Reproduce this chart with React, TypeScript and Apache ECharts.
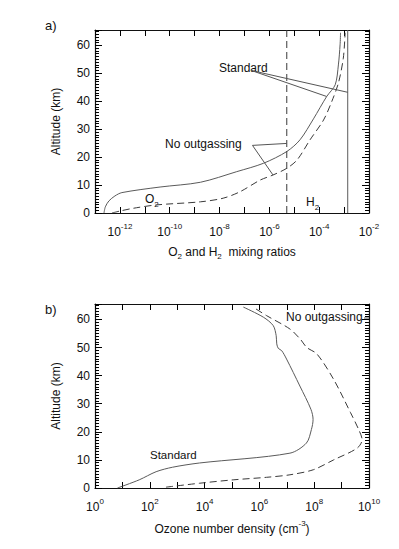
import React, { useEffect, useRef } from "react";
import * as echarts from "echarts";

// ---------- Panel a: O2 and H2 mixing ratios ----------
const altO2Std = [0, 2.2, 4.3, 6.1, 7.3, 9.3, 11.0, 14.8, 17.8, 22.0, 26.2, 33.7, 41.7, 45.9, 53.0, 60.2, 64.5];
const o2Std = [2.3e-13, 2.6e-13, 3.6e-13, 6.3e-13, 1.2e-12, 4.1e-11, 1.7e-9, 4.9e-8, 5.8e-7, 5.0e-6, 1.7e-5, 5.9e-5, 2.0e-4, 4.4e-4, 5.9e-4, 6.9e-4, 7.2e-4];
const altO2NoOut = [0, 0.7, 1.7, 2.9, 4.0, 5.3, 7.6, 11.8, 13.6, 16.0, 19.0, 26.2, 33.3, 39.9, 46.5, 55.4, 64.5];
const o2NoOut = [4.8e-13, 1.0e-12, 3.5e-12, 3.0e-11, 1.7e-9, 1.4e-8, 6.6e-8, 4.3e-7, 1.4e-6, 5.0e-6, 1.3e-5, 4.3e-5, 1.5e-4, 3.2e-4, 5.9e-4, 9.3e-4, 1.1e-3];
const h2Std = 1.4e-3;
const h2NoOut = 5.0e-6;

// ---------- Panel b: ozone number density ----------
const altO3Std = [0, 2.9, 5.8, 7.4, 8.9, 12.4, 16.0, 20.8, 24.4, 28.0, 36.3, 45.9, 48.9, 49.7, 51.3, 54.2, 57.8, 60.8, 64.4];
const o3Std = [6.6, 41, 170, 680, 6.5e3, 1.3e7, 5.2e7, 7.9e7, 9.1e7, 7.6e7, 3.0e7, 9.8e6, 6.5e6, 4.9e6, 4.3e6, 4.1e6, 3.2e6, 1.4e6, 2.6e5];
const altO3NoOut = [0.3, 1.7, 2.9, 3.8, 4.7, 6.5, 10.0, 14.2, 17.2, 20.8, 26.9, 38.7, 47.7, 50.0, 53.0, 56.6, 61.4, 64.4];
const o3NoOut = [390, 6.6e3, 1.1e5, 1.8e6, 1.3e7, 9.3e7, 5.1e8, 3.7e9, 5.6e9, 4.2e9, 2.1e9, 5.1e8, 1.26e8, 5.4e7, 3.1e7, 1.3e7, 1.8e6, 5.9e5];

const yTicks = [0, 10, 20, 30, 40, 50, 60];
const altMax = 65.5;

const FONT = "'Liberation Sans', Arial, Helvetica, sans-serif";
const INK = "#111";
const SOLID = "#5a5a5a";
const DASHED = "#3a3a3a";
const TICK = "black";

const zip = (xs: number[], ys: number[]) => xs.map((x, i) => [x, ys[i]]);

const supLabel = (v: number) => {
  const e = Math.round(Math.log10(v));
  return e % 2 === 0 ? `{b|10}{s|${e}}` : "";
};

const richSup = () => ({
  b: { fontSize: 12, lineHeight: 16, verticalAlign: "bottom", fontFamily: FONT, color: INK },
  s: { fontSize: 8, lineHeight: 9, verticalAlign: "top", fontFamily: FONT, color: INK },
});

function xAxisOne(grid: number, min: number, max: number, position: string) {
  return {
    type: "log",
    logBase: 10,
    gridIndex: grid,
    min,
    max,
    interval: 1,
    position,
    axisLine: { show: true, onZero: false, lineStyle: { color: INK, width: 1.2 } },
    axisTick: { show: true, inside: true, length: 6, lineStyle: { color: TICK, width: 1 } },
    splitLine: { show: false },
    axisLabel:
      position === "bottom"
        ? { show: true, margin: 9, formatter: supLabel, rich: richSup() }
        : { show: false },
  };
}

function yAxisOne(grid: number, position: string) {
  return {
    type: "value",
    gridIndex: grid,
    min: 0,
    max: altMax,
    interval: 10,
    position,
    axisLine: { show: true, onZero: false, lineStyle: { color: INK, width: 1.2 } },
    axisTick: { show: true, inside: true, length: 7, lineStyle: { color: TICK, width: 1 } },
    minorTick: { show: true, splitNumber: 10, length: 4, lineStyle: { color: TICK, width: 1 } },
    splitLine: { show: false },
    axisLabel:
      position === "left"
        ? {
            show: true,
            margin: 5,
            showMaxLabel: false,
            fontSize: 12,
            fontFamily: FONT,
            color: INK,
            formatter: (v: number) => (yTicks.includes(v) ? String(v) : ""),
          }
        : { show: false },
  };
}

const lineSeries = (data: number[][], xi: number, yi: number, dashed: boolean, color: string, smooth: number | boolean = 0.3) => ({
  type: "line",
  xAxisIndex: xi,
  yAxisIndex: yi,
  data,
  showSymbol: false,
  symbol: "none",
  smooth,
  lineStyle: { color, width: 1, type: dashed ? [7, 4] : "solid" },
});

const subRich = () => ({
  t: { fontSize: 12, lineHeight: 14, verticalAlign: "top", fontFamily: FONT, fill: INK },
  u: { fontSize: 8, lineHeight: 15, verticalAlign: "bottom", fontFamily: FONT, fill: INK },
});

export default function App() {
  const ref = useRef<HTMLDivElement>(null);

  useEffect(() => {
    if (!ref.current) return;
    const chart = echarts.init(ref.current, undefined, { renderer: "svg" });

    const txt = (left: number, top: number, text: string, opts: any = {}) => ({
      type: "text",
      left,
      top,
      style: { text, font: `12px ${FONT}`, fill: INK, ...opts },
      silent: true,
    });

    const option: any = {
      animation: false,
      grid: [
        { left: 95, top: 30, width: 274, height: 183 },
        { left: 95, top: 304, width: 274, height: 184 },
      ],
      xAxis: [
        xAxisOne(0, 1e-13, 1e-2, "bottom"),
        xAxisOne(0, 1e-13, 1e-2, "top"),
        xAxisOne(1, 1, 1e10, "bottom"),
        xAxisOne(1, 1, 1e10, "top"),
      ],
      yAxis: [yAxisOne(0, "left"), yAxisOne(0, "right"), yAxisOne(1, "left"), yAxisOne(1, "right")],
      series: [
        // panel a
        lineSeries(zip(o2Std, altO2Std), 0, 0, false, SOLID),
        lineSeries(zip(o2NoOut, altO2NoOut), 0, 0, true, DASHED),
        lineSeries([[h2Std, 0], [h2Std, altMax]], 0, 0, false, SOLID, false),
        lineSeries([[h2NoOut, 0], [h2NoOut, altMax]], 0, 0, true, DASHED, false),
        // leader lines panel a
        lineSeries([[1.9e-7, 51.0], [h2Std, 43.2]], 0, 0, false, "#555", false),
        lineSeries([[1.9e-7, 51.0], [2.0e-4, 41.7]], 0, 0, false, "#555", false),
        lineSeries([[2.1e-7, 24.2], [h2NoOut, 24.9]], 0, 0, false, "#555", false),
        lineSeries([[2.1e-7, 24.2], [1.4e-6, 13.6]], 0, 0, false, "#555", false),
        // panel b
        lineSeries(zip(o3Std, altO3Std), 2, 2, false, SOLID),
        lineSeries(zip(o3NoOut, altO3NoOut), 2, 2, true, DASHED),
      ],
      graphic: [
        txt(45, 19, "a)", { font: `13px ${FONT}` }),
        txt(45, 303, "b)", { font: `13px ${FONT}` }),
        txt(219, 62, "Standard"),
        txt(165, 138, "No outgassing"),
        { type: "text", left: 145, top: 193, silent: true, style: { text: "{t|O}{u|2}", rich: subRich() } },
        { type: "text", left: 306, top: 196, silent: true, style: { text: "{t|H}{u|2}", rich: subRich() } },
        txt(286, 311, "No outgassing"),
        { type: "line", silent: true, shape: { x1: 364, y1: 318, x2: 369, y2: 318 }, style: { stroke: "#555", lineWidth: 1 } },
        txt(150, 449, "Standard", { font: `11.5px ${FONT}` }),
        {
          type: "text",
          x: 56,
          y: 121.5,
          rotation: Math.PI / 2,
          silent: true,
          style: { text: "Altitude (km)", font: `12px ${FONT}`, fill: INK, align: "center", verticalAlign: "middle" },
        },
        {
          type: "text",
          x: 56,
          y: 396,
          rotation: Math.PI / 2,
          silent: true,
          style: { text: "Altitude (km)", font: `12px ${FONT}`, fill: INK, align: "center", verticalAlign: "middle" },
        },
        {
          type: "text",
          x: 232,
          y: 253,
          silent: true,
          style: {
            text: "{t|O}{u|2}{t| and H}{u|2}{t|  mixing ratios}",
            align: "center",
            verticalAlign: "middle",
            rich: subRich(),
          },
        },
        {
          type: "text",
          x: 232,
          y: 527,
          silent: true,
          style: {
            text: "{t|Ozone number density (cm}{s|-3}{t|)}",
            align: "center",
            verticalAlign: "middle",
            rich: {
              t: { fontSize: 12, lineHeight: 16, verticalAlign: "bottom", fontFamily: FONT, fill: INK },
              s: { fontSize: 8, lineHeight: 9, verticalAlign: "top", fontFamily: FONT, fill: INK },
            },
          },
        },
      ],
    };

    chart.setOption(option);
    return () => chart.dispose();
  }, []);

  return (
    <div
      ref={ref}
      style={{ position: "fixed", left: 0, top: 0, width: 399, height: 549, background: "#fff" }}
    />
  );
}
